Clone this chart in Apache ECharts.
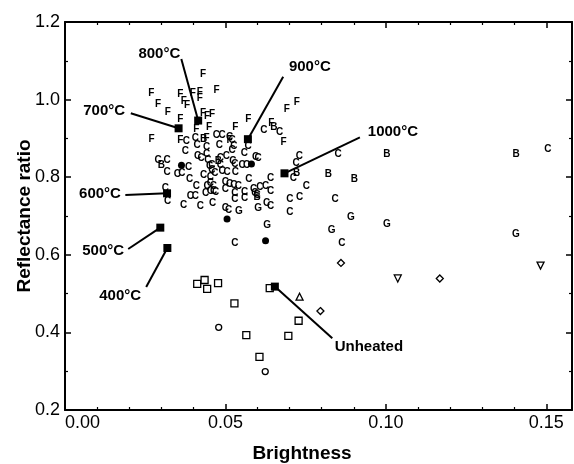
<!DOCTYPE html>
<html><head><meta charset="utf-8">
<script src="https://cdn.jsdelivr.net/npm/echarts@6/dist/echarts.min.js"></script>
<style>html,body{margin:0;padding:0;background:#fff}#c{width:574px;height:464px}</style>
</head><body><div id="c"></div>
<script>
// ---- axis settings ----
const xRange = [0, 0.158];
const yRange = [0.2, 1.2];
const xTickStep = 0.05;
const yTickStep = 0.2;

// ---- letter-coded samples [brightness, reflectance ratio] ----
const samplesF = [
  [0.0430,1.066],[0.0269,1.016],[0.0359,1.014],[0.0398,1.016],[0.0420,1.020],[0.0420,1.003],
  [0.0472,1.025],[0.0290,0.988],[0.0370,0.995],[0.0380,0.986],[0.0320,0.967],[0.0359,0.949],
  [0.0430,0.965],[0.0443,0.958],[0.0458,0.963],[0.0409,0.923],[0.0449,0.928],[0.0270,0.899],
  [0.0359,0.896],[0.0531,0.930],[0.0571,0.949],[0.0691,0.976],[0.0722,0.993],[0.0643,0.940],
  [0.0681,0.889],[0.0513,0.894],[0.0441,0.900]
];
const samplesC = [
  [0.0290,0.844],[0.0318,0.844],[0.0318,0.813],[0.0313,0.771],[0.0320,0.737],[0.0350,0.808],
  [0.0364,0.810],[0.0375,0.868],[0.0378,0.893],[0.0385,0.826],[0.0388,0.794],[0.0370,0.728],
  [0.0391,0.750],[0.0406,0.750],[0.0409,0.776],[0.0406,0.900],[0.0412,0.883],[0.0413,0.855],
  [0.0424,0.849],[0.0422,0.724],[0.0432,0.806],[0.0438,0.759],[0.0441,0.860],[0.0445,0.844],
  [0.0441,0.877],[0.0443,0.776],[0.0451,0.827],[0.0453,0.801],[0.0453,0.784],[0.0453,0.763],
  [0.0460,0.733],[0.0472,0.909],[0.0490,0.909],[0.0481,0.883],[0.0513,0.904],[0.0521,0.894],
  [0.0526,0.879],[0.0521,0.870],[0.0559,0.863],[0.0571,0.880],[0.0484,0.849],[0.0503,0.853],
  [0.0594,0.851],[0.0602,0.848],[0.0620,0.922],[0.0669,0.917],[0.0730,0.855],[0.0720,0.837],
  [0.0712,0.797],[0.0484,0.831],[0.0523,0.840],[0.0529,0.834],[0.0552,0.831],[0.0566,0.830],
  [0.0458,0.831],[0.0458,0.819],[0.0467,0.810],[0.0490,0.816],[0.0505,0.814],[0.0531,0.813],
  [0.0573,0.795],[0.0641,0.797],[0.0752,0.777],[0.0500,0.788],[0.0513,0.783],[0.0526,0.780],
  [0.0540,0.776],[0.0462,0.776],[0.0463,0.764],[0.0469,0.760],[0.0500,0.770],[0.0529,0.759],
  [0.0560,0.761],[0.0588,0.770],[0.0607,0.773],[0.0625,0.776],[0.0641,0.765],[0.0592,0.759],
  [0.0599,0.754],[0.0560,0.746],[0.0529,0.744],[0.0628,0.734],[0.0641,0.724],[0.0500,0.720],
  [0.0510,0.715],[0.0701,0.743],[0.0731,0.748],[0.0701,0.710],[0.0851,0.859],[0.1505,0.872],
  [0.0842,0.744],[0.0863,0.630],[0.0529,0.630]
];
const samplesB = [
  [0.0300,0.831],[0.0432,0.898],[0.0478,0.842],[0.0651,0.930],[0.0722,0.810],[0.1003,0.860],
  [0.1406,0.860],[0.0821,0.807],[0.0902,0.796],[0.0599,0.748]
];
const samplesG = [
  [0.0542,0.711],[0.0602,0.720],[0.0630,0.677],[0.0891,0.698],[0.1003,0.678],[0.0831,0.664],
  [0.1405,0.654]
];

// ---- symbol-coded samples ----
const filledCircles = [[0.0363,0.831],[0.0581,0.834],[0.0505,0.692],[0.0625,0.636]];
const openSquares = [
  [0.0412,0.525],[0.0435,0.535],[0.0443,0.512],[0.0477,0.527],[0.0528,0.475],
  [0.0565,0.393],[0.0606,0.337],[0.0638,0.514],[0.0728,0.430],[0.0696,0.391]
];
const openCircles = [[0.0479,0.413],[0.0624,0.299]];
const triUp = [[0.0731,0.492]];
const triDown = [[0.1037,0.539],[0.1482,0.572]];
const diamonds = [[0.0796,0.455],[0.0860,0.579],[0.1168,0.539]];

// ---- heat-treatment series (filled squares) ----
const heatLabels = ['400°C','500°C','600°C','700°C','800°C','900°C','1000°C','Unheated'];
const heatX = [0.0319,0.0297,0.0318,0.0354,0.0415,0.0570,0.0684,0.0654];
const heatY = [0.6175,0.670,0.7585,0.926,0.946,0.898,0.810,0.518];
// callout line ends and label centres (data units)
const calloutEndX = [0.0253,0.0197,0.0188,0.0205,0.03625,0.0680,0.0919,0.0833];
const calloutEndY = [0.517,0.615,0.7541,0.9647,1.1046,1.059,0.9028,0.3848];
const labelX = [0.0172,0.0119,0.0109,0.0122,0.0294,0.0763,0.1022,0.0947];
const labelY = [0.4938,0.6098,0.7567,0.9706,1.1175,1.084,0.9165,0.3624];

const FONT = 'Liberation Sans, Arial, Helvetica, sans-serif';

function letterSeries(name, data){
  return {
    type:'scatter', name, data, symbol:'circle', symbolSize:1, silent:true, z:3,
    itemStyle:{color:'rgba(0,0,0,0)', opacity:1},
    label:{show:true, position:'inside', formatter:name, color:'#000', opacity:1,
      fontFamily:FONT, fontWeight:'bold', fontSize:10}
  };
}
function markerSeries(data, symbol, size, filled, rotate){
  return {
    type:'scatter', data, symbol, symbolSize:size, symbolRotate:rotate||0, silent:true, z:4,
    itemStyle: filled ? {color:'#000', opacity:1} : {color:'#fff', borderColor:'#000', borderWidth:1.3, opacity:1}
  };
}

const axisCommon = {
  type:'value',
  axisLine:{show:true, onZero:false, lineStyle:{color:'#000', width:2}},
  axisTick:{show:true, inside:true, length:6, lineStyle:{color:'#000', width:1.5}},
  minorTick:{show:true, length:3, lineStyle:{color:'#000', width:1.2}},
  splitLine:{show:false}, minorSplitLine:{show:false}
};

const chart = echarts.init(document.getElementById('c'), null, {renderer:'canvas'});
chart.setOption({
  backgroundColor:'#fff',
  animation:false,
  grid:{left:65, right:2, top:22, bottom:54, outerBoundsMode:'none'},
  xAxis:[
    Object.assign({}, axisCommon, {
      min:xRange[0], max:xRange[1], interval:xTickStep, position:'bottom',
      minorTick:Object.assign({}, axisCommon.minorTick, {splitNumber:5}),
      axisLabel:{show:true, color:'#000', fontFamily:FONT, fontSize:18, margin:4,
        showMaxLabel:false, alignMinLabel:'left', formatter:v=>v.toFixed(2)},
      name:'Brightness', nameLocation:'middle', nameGap:34.5, nameMoveOverlap:false,
      nameTextStyle:{color:'#000', fontFamily:FONT, fontWeight:'bold', fontSize:19, padding:[0,33,0,0]}
    }),
    Object.assign({}, axisCommon, {
      min:xRange[0], max:xRange[1], interval:xTickStep, position:'top',
      minorTick:Object.assign({}, axisCommon.minorTick, {splitNumber:5}),
      axisLabel:{show:false}
    })
  ],
  yAxis:[
    Object.assign({}, axisCommon, {
      min:yRange[0], max:yRange[1], interval:yTickStep, position:'left',
      minorTick:Object.assign({}, axisCommon.minorTick, {splitNumber:2}),
      axisLabel:{show:true, color:'#000', fontFamily:FONT, fontSize:18, margin:5,
        formatter:v=>v.toFixed(1)},
      name:'Reflectance ratio', nameLocation:'middle', nameGap:31, nameRotate:90, nameMoveOverlap:false,
      nameTextStyle:{color:'#000', fontFamily:FONT, fontWeight:'bold', fontSize:19}
    }),
    Object.assign({}, axisCommon, {
      min:yRange[0], max:yRange[1], interval:yTickStep, position:'right',
      minorTick:Object.assign({}, axisCommon.minorTick, {splitNumber:2}),
      axisLabel:{show:false}
    })
  ],
  series:[
    {
      type:'lines', coordinateSystem:'cartesian2d', silent:true, z:2,
      lineStyle:{color:'#000', width:2, opacity:1},
      data: heatLabels.map((t,i)=>({coords:[[calloutEndX[i],calloutEndY[i]],[heatX[i],heatY[i]]]}))
    },
    {
      type:'scatter', symbol:'circle', symbolSize:1, silent:true, z:5,
      itemStyle:{color:'rgba(0,0,0,0)', opacity:1},
      data: heatLabels.map((t,i)=>({value:[labelX[i],labelY[i]], name:t})),
      label:{show:true, position:'inside', formatter:p=>p.name, color:'#000', opacity:1,
        fontFamily:FONT, fontWeight:'bold', fontSize:15}
    },
    letterSeries('F', samplesF),
    letterSeries('C', samplesC),
    letterSeries('B', samplesB),
    letterSeries('G', samplesG),
    markerSeries(openSquares,'rect',7,false),
    markerSeries(openCircles,'circle',6,false),
    markerSeries(triUp,'triangle',7,false),
    markerSeries(triDown,'triangle',7,false,180),
    markerSeries(diamonds,'diamond',7,false),
    markerSeries(filledCircles,'circle',7,true),
    markerSeries(heatX.map((x,i)=>[x,heatY[i]]),'rect',8,true)
  ]
});
</script>
</body></html>
